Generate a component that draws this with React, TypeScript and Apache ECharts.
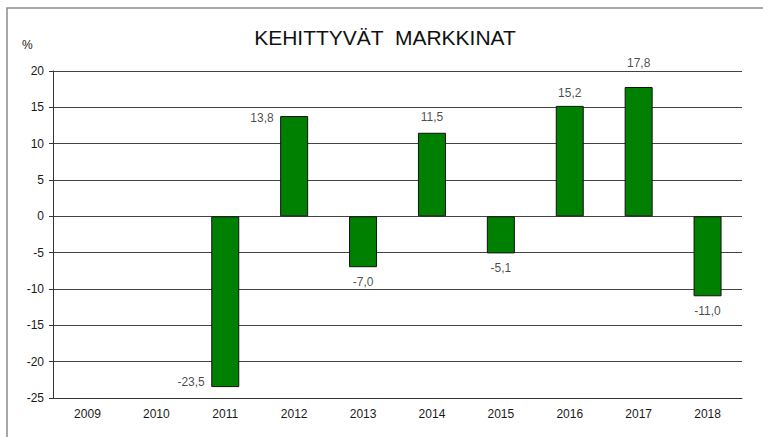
import React, { useEffect, useRef } from "react";
import * as echarts from "echarts";

const years = ["2009", "2010", "2011", "2012", "2013", "2014", "2015", "2016", "2017", "2018"];
const changes: (number | null)[] = [null, null, -23.5, 13.8, -7.0, 11.5, -5.1, 15.2, 17.8, -11.0];
const yTicks = { min: -25, max: 20, interval: 5 };
const titleText = "KEHITTYVÄT  MARKKINAT";
const unitText = "%";

// label placement per bar (position, distance, vertical offset)
const labelPlacement: [string, number, number][] = [
  ["top", 6, 0],
  ["top", 6, 0],
  ["left", 20, -5],
  ["left", 20, 2],
  ["bottom", 8, 0],
  ["top", 9, 0],
  ["bottom", 8, 0],
  ["top", 6, 0],
  ["top", 17, 0],
  ["bottom", 8, 0],
];

const fmt = (v: number) => v.toFixed(1).replace(".", ",");

export default function App() {
  const ref = useRef<HTMLDivElement>(null);
  useEffect(() => {
    document.body.style.margin = "0";
    if (!ref.current) return;
    const chart = echarts.init(ref.current, null, { renderer: "svg" });
    const font = "'Liberation Sans', Arial, sans-serif";
    const labelData = changes.map((v, i) => {
      if (v === null) return null;
      const [pos, dist, dy] = labelPlacement[i];
      return {
        value: v,
        label: {
          show: true,
          position: pos,
          distance: dist,
          offset: [0, dy],
          formatter: fmt(v),
          color: "#1a1a1a",
          textBorderWidth: 0,
          fontSize: 12,
          fontFamily: font,
        },
      };
    });
    chart.setOption({
      animation: false,
      backgroundColor: "#ffffff",
      textStyle: { fontFamily: font },
      title: {
        text: titleText,
        left: 380,
        top: 22,
        textAlign: "center",
        textStyle: { fontFamily: font, fontSize: 21, fontWeight: "normal", color: "#111" },
      },
      graphic: [
        {
          type: "polyline",
          shape: { points: [[7, 437], [7, 8], [763, 8]] },
          style: { stroke: "#8a8a8a", lineWidth: 1.5, fill: "none" },
        },
        {
          type: "text",
          left: 22,
          top: 39,
          style: { text: unitText, font: `12px ${font}`, fill: "#1a1a1a" },
        },
      ],
      grid: { left: 53, right: 21, top: 71, bottom: 39, containLabel: false },
      xAxis: {
        type: "category",
        data: years,
        boundaryGap: true,
        axisLine: { show: true, onZero: false, lineStyle: { color: "#333", width: 1 } },
        axisTick: { show: false },
        axisLabel: { color: "#1a1a1a", fontSize: 12, margin: 10, fontFamily: font },
        splitLine: { show: false },
      },
      yAxis: {
        type: "value",
        min: yTicks.min,
        max: yTicks.max,
        interval: yTicks.interval,
        axisLine: { show: true, lineStyle: { color: "#333", width: 1 } },
        axisTick: { show: true, length: 4, lineStyle: { color: "#333" } },
        axisLabel: { color: "#1a1a1a", fontSize: 12, margin: 9, fontFamily: font },
        splitLine: { show: true, lineStyle: { color: "#444", width: 1 } },
      },
      series: [
        {
          type: "bar",
          data: changes,
          barWidth: 28,
          itemStyle: { color: "#008000", borderColor: "#111", borderWidth: 1 },
          z: 3,
        },
        {
          type: "scatter",
          data: labelData,
          symbolSize: 1,
          itemStyle: { color: "rgba(0,0,0,0)" },
          label: { show: true, color: "#1a1a1a", textBorderWidth: 0, fontSize: 12, fontFamily: font },
          z: 4,
          silent: true,
        },
      ],
    });
    return () => chart.dispose();
  }, []);
  return <div ref={ref} style={{ width: 763, height: 437 }} />;
}
